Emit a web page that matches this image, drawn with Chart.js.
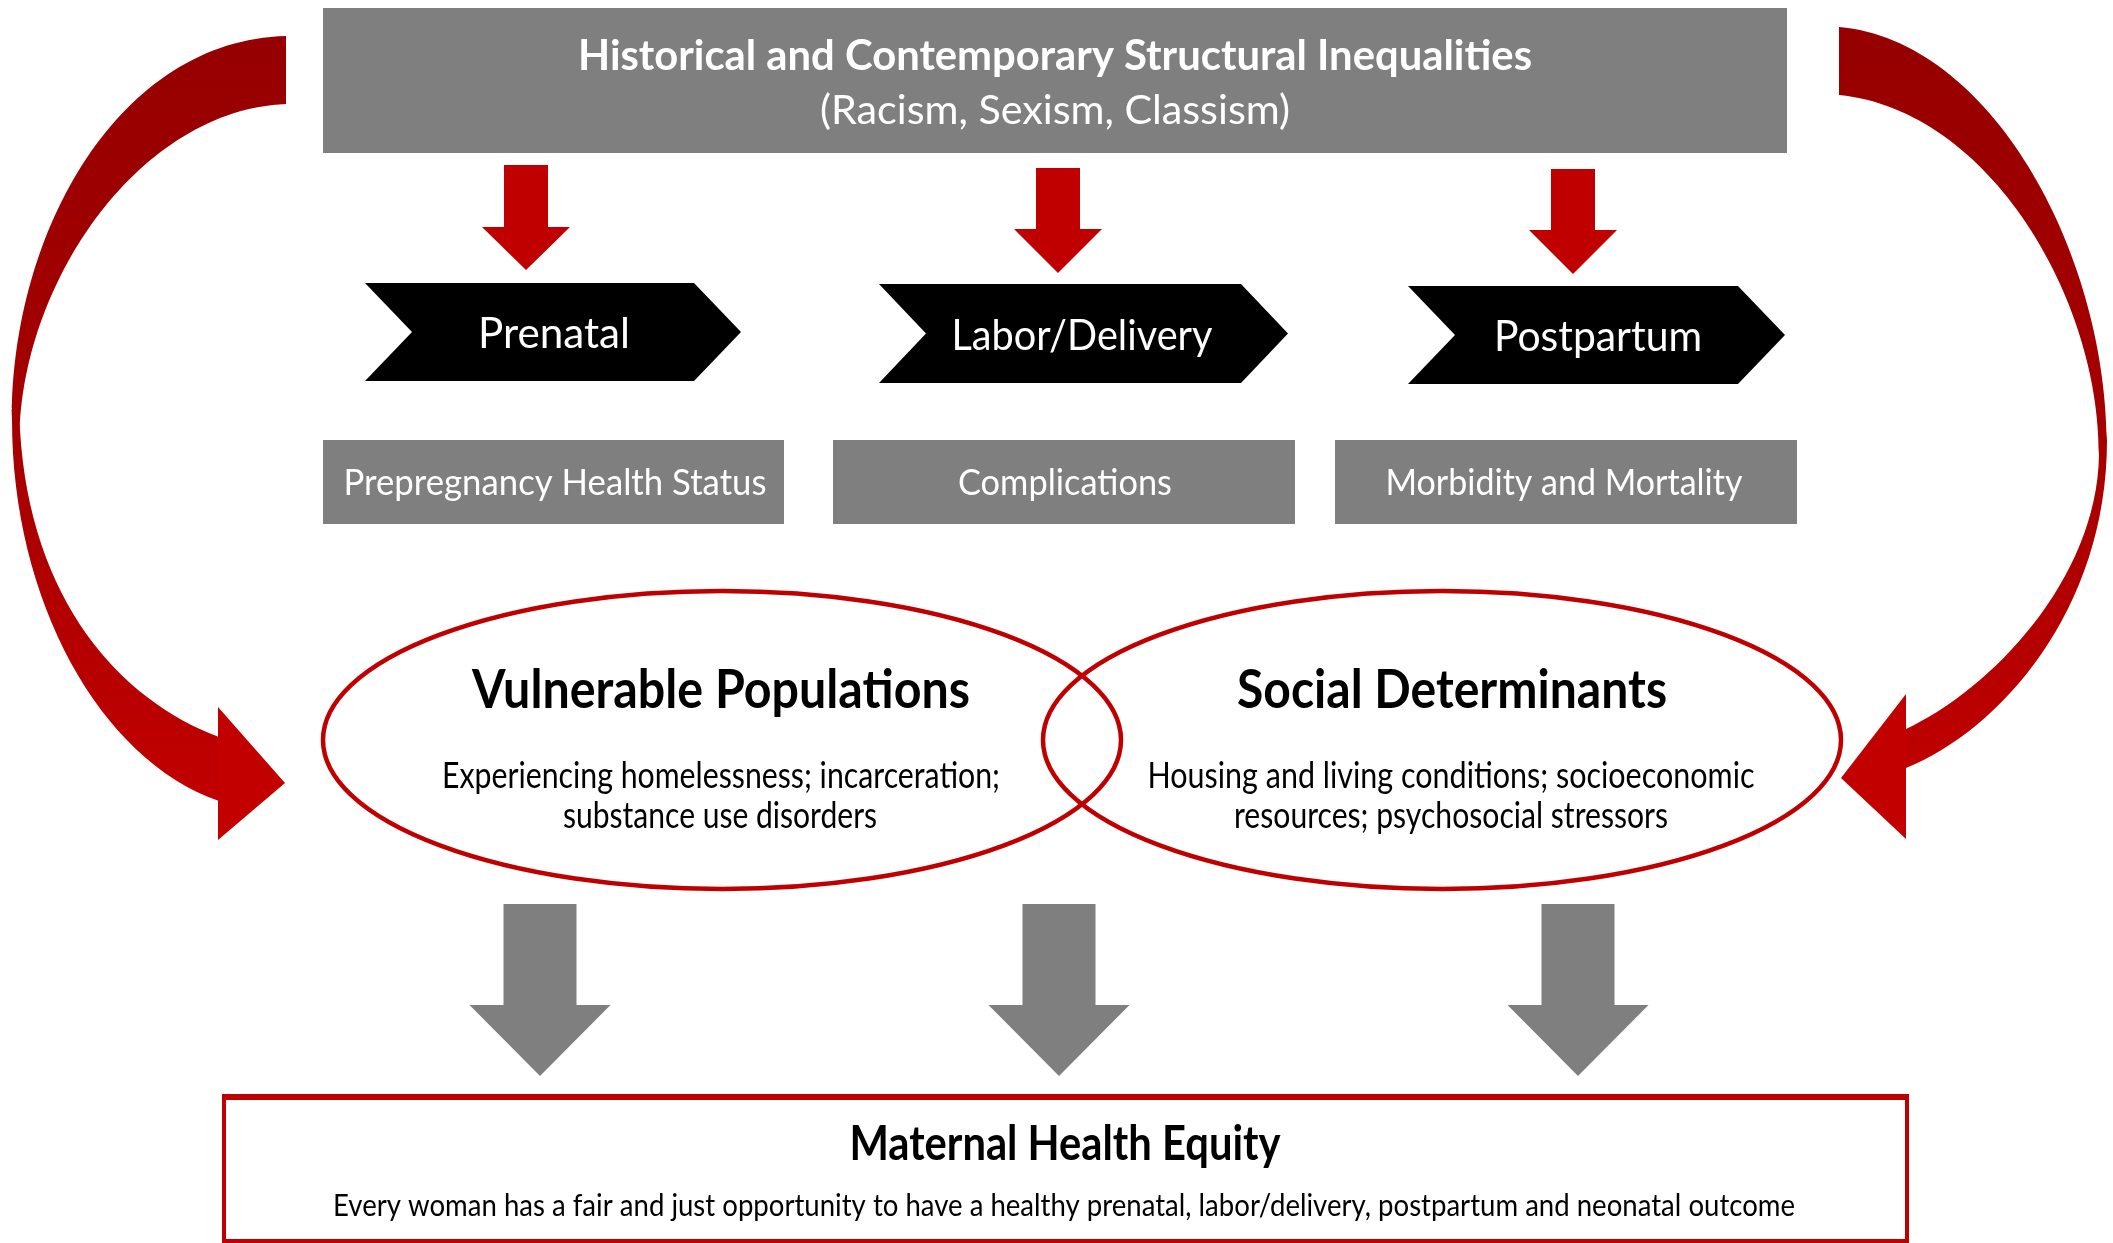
<!DOCTYPE html>
<html>
<head>
<meta charset="utf-8">
<script src="https://cdn.jsdelivr.net/npm/chart.js@4.4.1/dist/chart.umd.min.js"></script>
<style>
  html, body { margin: 0; padding: 0; background: #ffffff; }
  #wrap { width: 2113px; height: 1243px; position: relative; }
</style>
</head>
<body>
<div id="wrap"><canvas id="c"></canvas></div>
<script>
// ---- content (text) ----
const headerLines = ['Historical and Contemporary Structural Inequalities', '(Racism, Sexism, Classism)'];
const stages = ['Prenatal', 'Labor/Delivery', 'Postpartum'];
const stageOutcomes = ['Prepregnancy Health Status', 'Complications', 'Morbidity and Mortality'];
const circleTitles = ['Vulnerable Populations', 'Social Determinants'];
const circleDetailsLeft = ['Experiencing homelessness; incarceration;', 'substance use disorders'];
const circleDetailsRight = ['Housing and living conditions; socioeconomic', 'resources; psychosocial stressors'];
const goalTitle = ['Maternal Health Equity'];
const goalText = ['Every woman has a fair and just opportunity to have a healthy prenatal, labor/delivery, postpartum and neonatal outcome'];

const FONT = 'Lato, "Noto Sans", sans-serif';
const RED = '#c00000';
const GRAY = '#7f7f7f';

const diagramPlugin = {
  id: 'diagram',
  beforeDatasetsDraw(chart) {
    const ctx = chart.ctx;
    const X = v => chart.scales.x.getPixelForValue(v);
    const Y = v => chart.scales.y.getPixelForValue(v);

    function poly(pts, fill) {
      ctx.beginPath();
      pts.forEach((p, i) => i ? ctx.lineTo(X(p[0]), Y(p[1])) : ctx.moveTo(X(p[0]), Y(p[1])));
      ctx.closePath();
      ctx.fillStyle = fill;
      ctx.fill();
    }
    function rect(x0, y0, x1, y1, fill) {
      ctx.fillStyle = fill;
      ctx.fillRect(X(x0), Y(y0), X(x1) - X(x0), Y(y1) - Y(y0));
    }
    function txt(s, cx, cy, size, weight, color, w) {
      ctx.save();
      ctx.font = weight + ' ' + size + 'px ' + FONT;
      const m = ctx.measureText(s).width;
      const sx = w ? (X(w) - X(0)) / m : 1;
      ctx.translate(X(cx), Y(cy));
      ctx.scale(sx, 1);
      ctx.fillStyle = color;
      ctx.textAlign = 'center';
      ctx.textBaseline = 'alphabetic';
      ctx.fillText(s, 0, size * 0.36);
      ctx.restore();
    }
    function downArrow(cx, top, neck, tip, shaftW, headW, fill) {
      poly([[cx - shaftW / 2, top], [cx + shaftW / 2, top], [cx + shaftW / 2, neck], [cx + headW / 2, neck],
            [cx, tip], [cx - headW / 2, neck], [cx - shaftW / 2, neck]], fill);
    }
    function chevron(x0, x1, y0, y1, d) {
      const ym = (y0 + y1) / 2;
      poly([[x0, y0], [x1, y0], [x1 + d, ym], [x1, y1], [x0, y1], [x0 + d, ym]], '#000000');
    }

    // white background
    rect(0, 0, 2113, 1243, '#ffffff');

    // ---- curved side arrows ----
    const gL = ctx.createLinearGradient(0, Y(30), 0, Y(840));
    gL.addColorStop(0, '#960000');
    gL.addColorStop(0.55, '#a80000');
    gL.addColorStop(1, '#c40000');
    ctx.fillStyle = gL;
    ctx.beginPath();
    ctx.moveTo(X(286), Y(36));
    ctx.bezierCurveTo(X(120), Y(40), X(12), Y(230), X(12), Y(420));
    ctx.bezierCurveTo(X(12), Y(600), X(100), Y(760), X(219), Y(801));
    ctx.lineTo(X(219), Y(737));
    ctx.bezierCurveTo(X(120), Y(700), X(30), Y(600), X(20), Y(430));
    ctx.bezierCurveTo(X(25), Y(280), X(140), Y(110), X(286), Y(104));
    ctx.closePath();
    ctx.fill();
    poly([[218, 707], [285, 783], [218, 840]], '#c20000');

    const gR = ctx.createLinearGradient(0, Y(25), 0, Y(840));
    gR.addColorStop(0, '#960000');
    gR.addColorStop(0.55, '#a80000');
    gR.addColorStop(1, '#c40000');
    ctx.fillStyle = gR;
    ctx.beginPath();
    ctx.moveTo(X(1839), Y(27));
    ctx.bezierCurveTo(X(1990), Y(40), X(2105), Y(250), X(2107), Y(440));
    ctx.bezierCurveTo(X(2107), Y(610), X(2000), Y(730), X(1906), Y(768));
    ctx.lineTo(X(1906), Y(729));
    ctx.bezierCurveTo(X(1990), Y(690), X(2097), Y(580), X(2099), Y(455));
    ctx.bezierCurveTo(X(2100), Y(300), X(1990), Y(110), X(1839), Y(95));
    ctx.closePath();
    ctx.fill();
    poly([[1906, 694], [1841, 778], [1906, 839]], '#c20000');

    // ---- header box ----
    rect(323, 8, 1787, 153, GRAY);
    txt(headerLines[0], 1055, 55, 42, 'bold', '#ffffff', 954);
    txt(headerLines[1], 1055, 109, 41, 'normal', '#ffffff', 470);

    // ---- red down arrows ----
    const redCx = [526, 1058, 1573];
    const redTop = [165, 168, 169];
    const redNeck = [227, 229, 230];
    const redTip = [270, 273, 274];
    redCx.forEach((cx, i) => downArrow(cx, redTop[i], redNeck[i], redTip[i], 44, 88, RED));

    // ---- chevrons ----
    const chevX0 = [365, 879, 1408];
    const chevX1 = [694, 1241, 1738];
    const chevY0 = [283, 284, 286];
    const chevY1 = [381, 383, 384];
    const chevTxtX = [554, 1082, 1598];
    const chevTxtW = [152, 261, 208];
    stages.forEach((s, i) => {
      chevron(chevX0[i], chevX1[i], chevY0[i], chevY1[i], 47);
      txt(s, chevTxtX[i], (chevY0[i] + chevY1[i]) / 2 + 1, 42, 'normal', '#ffffff', chevTxtW[i]);
    });

    // ---- outcome boxes ----
    const boxX0 = [323, 833, 1335];
    const boxX1 = [784, 1295, 1797];
    const boxTxtX = [555, 1065, 1564];
    const boxTxtW = [423, 214, 357];
    stageOutcomes.forEach((s, i) => {
      rect(boxX0[i], 440, boxX1[i], 524, GRAY);
      txt(s, boxTxtX[i], 482, 37, 'normal', '#ffffff', boxTxtW[i]);
    });

    // ---- ellipses ----
    ctx.strokeStyle = RED;
    ctx.lineWidth = 4.5;
    [722, 1442].forEach(cx => {
      ctx.beginPath();
      ctx.ellipse(X(cx), Y(740), X(399) - X(0), Y(149) - Y(0), 0, 0, Math.PI * 2);
      ctx.stroke();
    });
    txt(circleTitles[0], 721, 689, 54, 'bold', '#000000', 498);
    txt(circleTitles[1], 1452, 689, 54, 'bold', '#000000', 430);
    txt(circleDetailsLeft[0], 721, 775, 36, 'normal', '#000000', 558);
    txt(circleDetailsLeft[1], 720, 815, 36, 'normal', '#000000', 314);
    txt(circleDetailsRight[0], 1451, 775, 36, 'normal', '#000000', 607);
    txt(circleDetailsRight[1], 1451, 815, 36, 'normal', '#000000', 434);

    // ---- gray down arrows ----
    [540, 1059, 1578].forEach(cx => downArrow(cx, 904, 1005, 1076, 73, 141, GRAY));

    // ---- goal box ----
    ctx.strokeStyle = RED;
    ctx.lineWidth = 4;
    ctx.strokeRect(X(224), Y(1097), X(1907) - X(224), Y(1241) - Y(1097));
    ctx.fillStyle = RED;
    ctx.fillRect(X(222), Y(1094), X(1909) - X(222), Y(1100) - Y(1094));
    txt(goalTitle[0], 1065, 1143, 48, 'bold', '#000000', 431);
    txt(goalText[0], 1064, 1205, 30, 'normal', '#000000', 1462);
  }
};

new Chart(document.getElementById('c'), {
  type: 'scatter',
  data: { datasets: [{ data: [], showLine: false }] },
  options: {
    responsive: true,
    maintainAspectRatio: false,
    animation: false,
    layout: { padding: 0 },
    plugins: { legend: { display: false }, tooltip: { enabled: false } },
    scales: {
      x: { type: 'linear', min: 0, max: 2113, display: false },
      y: { type: 'linear', min: 0, max: 1243, reverse: true, display: false }
    }
  },
  plugins: [diagramPlugin]
});
</script>
</body>
</html>
